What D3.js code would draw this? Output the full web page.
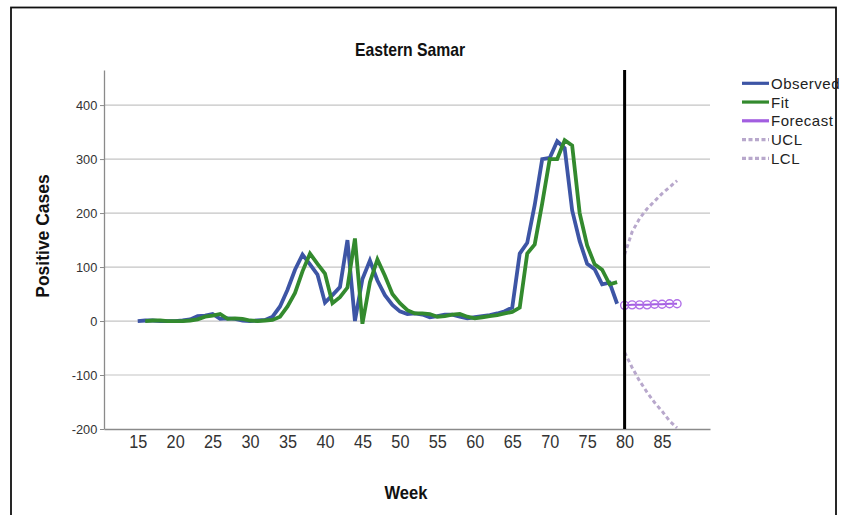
<!DOCTYPE html>
<html>
<head>
<meta charset="utf-8">
<script src="https://cdn.jsdelivr.net/npm/d3@7"></script>
<style>
  html, body { margin: 0; padding: 0; background: #fff; }
  svg { display: block; font-family: "Liberation Sans", Arial, sans-serif; }
</style>
</head>
<body>
<svg id="chart" width="846" height="515"></svg>
<script>
// Weekly positive cases, Eastern Samar
const obsWeeks = d3.range(15, 80);
const observed = [0, 1, 1, 0, 0, 0, 1, 3, 9, 10, 13, 4, 5, 4, 1, 0, 1, 2, 8, 27,
  58, 95, 123, 105, 86, 34, 48, 63, 150, 0, 78, 112, 75, 48, 30, 18, 13, 14, 12, 7,
  9, 12, 12, 8, 5, 7, 9, 11, 14, 18, 25, 125, 145, 215, 300, 302, 333, 320, 205, 148,
  106, 96, 68, 71, 32];

const fitWeeks = d3.range(16, 80);
const fit = [0, 1, 1, 0, 0, 0, 1, 3, 8, 10, 13, 4, 5, 4, 1, 0, 1, 2, 8, 27,
  52, 92, 125, 106, 88, 33, 44, 62, 153, -5, 72, 114, 84, 50, 33, 20, 14, 14, 13, 8,
  9, 12, 13, 8, 5, 7, 9, 11, 14, 17, 25, 125, 142, 218, 300, 300, 335, 325, 200, 140,
  105, 95, 68, 72];

const fcWeeks = d3.range(80, 88);
const forecast = [29, 30, 30, 30, 31, 31, 32, 32];
const ucl = [123, 165, 190, 208, 222, 236, 248, 260];
const lcl = [-58, -86, -111, -132, -151, -167, -185, -198];

const xTicks = [15, 20, 25, 30, 35, 40, 45, 50, 55, 60, 65, 70, 75, 80, 85];
const yTicks = [-200, -100, 0, 100, 200, 300, 400];
const forecastOrigin = 80;

const legendItems = [
  { label: "Observed", color: "#3d55a5", dash: null },
  { label: "Fit", color: "#338a2e", dash: null },
  { label: "Forecast", color: "#a25ee0", dash: null },
  { label: "UCL", color: "#b8a8cc", dash: "4,2.5" },
  { label: "LCL", color: "#b8a8cc", dash: "4,2.5" }
];

const svg = d3.select("#chart");
const plot = { left: 104, right: 710, top: 70, bottom: 429 };

const x = d3.scaleLinear().domain([10.5, 91.4]).range([plot.left, plot.right]);
const y = d3.scaleLinear().domain([-200, 465]).range([plot.bottom, plot.top]);

// outer frame
svg.append("rect")
  .attr("x", 11).attr("y", 7.5).attr("width", 825).attr("height", 530)
  .attr("fill", "#fff").attr("stroke", "#111").attr("stroke-width", 1.8);

// gridlines
svg.append("g")
  .selectAll("line")
  .data(yTicks.filter(d => d > -200))
  .join("line")
  .attr("x1", plot.left).attr("x2", plot.right)
  .attr("y1", d => y(d)).attr("y2", d => y(d))
  .attr("stroke", "#c4c4c4").attr("stroke-width", 1.2);

// y axis
const yAxis = svg.append("g")
  .attr("transform", `translate(${plot.left},0)`)
  .call(d3.axisLeft(y).tickValues(yTicks).tickFormat(d => String(d))
    .tickSize(4).tickPadding(3).tickSizeOuter(0));
yAxis.select(".domain").attr("stroke", "#8a8a8a").attr("stroke-width", 1.3);
yAxis.selectAll(".tick line").attr("stroke", "#8a8a8a");
yAxis.selectAll(".tick text").attr("fill", "#333").attr("font-size", 13.5)
  .attr("font-family", "Liberation Sans, Arial, sans-serif")
  .attr("transform", "scale(0.95,1)");

// x axis
const xAxis = svg.append("g")
  .attr("transform", `translate(0,${plot.bottom})`)
  .call(d3.axisBottom(x).tickValues(xTicks).tickFormat(d => String(d))
    .tickSize(0).tickPadding(7).tickSizeOuter(0));
xAxis.select(".domain").attr("stroke", "#8a8a8a").attr("stroke-width", 1.3);
xAxis.selectAll(".tick text").attr("fill", "#333").attr("font-size", 17.5)
  .attr("font-family", "Liberation Sans, Arial, sans-serif")
  .attr("transform", "scale(0.93,1)");

// series
const line = d3.line().x(d => x(d[0])).y(d => y(d[1]));
const obsData = obsWeeks.map((w, i) => [w, observed[i]]);
const fitData = fitWeeks.map((w, i) => [w, fit[i]]);
const fcData = fcWeeks.map((w, i) => [w, forecast[i]]);
const uclData = fcWeeks.map((w, i) => [w, ucl[i]]);
const lclData = fcWeeks.map((w, i) => [w, lcl[i]]);

svg.append("path").datum(uclData).attr("d", line)
  .attr("fill", "none").attr("stroke", "#b8a8cc").attr("stroke-width", 3)
  .attr("stroke-dasharray", "4,3");
svg.append("path").datum(lclData).attr("d", line)
  .attr("fill", "none").attr("stroke", "#b8a8cc").attr("stroke-width", 3)
  .attr("stroke-dasharray", "4,3");

svg.append("path").datum(obsData).attr("d", line)
  .attr("fill", "none").attr("stroke", "#3d55a5").attr("stroke-width", 3.8)
  .attr("stroke-linejoin", "miter");
svg.append("path").datum(fitData).attr("d", line)
  .attr("fill", "none").attr("stroke", "#338a2e").attr("stroke-width", 3.8)
  .attr("stroke-linejoin", "miter");

svg.append("path").datum(fcData).attr("d", line)
  .attr("fill", "none").attr("stroke", "#a25ee0").attr("stroke-width", 2);
svg.append("g").selectAll("circle").data(fcData).join("circle")
  .attr("cx", d => x(d[0])).attr("cy", d => y(d[1])).attr("r", 4)
  .attr("fill", "none").attr("stroke", "#b06ee8").attr("stroke-width", 1.4);

// forecast origin reference line
svg.append("line")
  .attr("x1", x(forecastOrigin)).attr("x2", x(forecastOrigin))
  .attr("y1", plot.top).attr("y2", plot.bottom)
  .attr("stroke", "#000").attr("stroke-width", 3);

// titles
svg.append("text").attr("transform", "translate(410,56) scale(0.9,1)")
  .attr("text-anchor", "middle")
  .attr("font-size", 17.5).attr("font-weight", "bold").attr("fill", "#111")
  .text("Eastern Samar");
svg.append("text").attr("transform", "translate(406,499) scale(0.92,1)")
  .attr("text-anchor", "middle")
  .attr("font-size", 18).attr("font-weight", "bold").attr("fill", "#111")
  .text("Week");
svg.append("text")
  .attr("transform", "translate(49,236) rotate(-90)")
  .attr("text-anchor", "middle")
  .attr("font-size", 17.5).attr("font-weight", "bold").attr("fill", "#111")
  .text("Positive Cases");

// legend
const legend = svg.append("g");
legendItems.forEach((it, i) => {
  const ly = 83.3 + i * 18.75;
  legend.append("line")
    .attr("x1", 742).attr("x2", 769).attr("y1", ly).attr("y2", ly)
    .attr("stroke", it.color).attr("stroke-width", 3.2)
    .attr("stroke-dasharray", it.dash);
  legend.append("text")
    .attr("x", 771).attr("y", ly + 5.5)
    .attr("font-size", 15).attr("letter-spacing", 0.5).attr("fill", "#222")
    .text(it.label);
});
</script>
</body>
</html>
